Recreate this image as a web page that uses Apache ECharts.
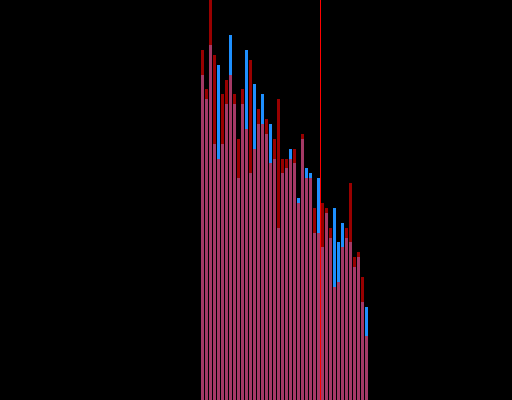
<!DOCTYPE html>
<html>
<head>
<meta charset="utf-8">
<script src="https://cdn.jsdelivr.net/npm/echarts@6/dist/echarts.min.js"></script>
<style>html,body{margin:0;padding:0;background:#000;}#c{width:512px;height:400px;}</style>
</head>
<body>
<div id="c"></div>
<script>
const categories = Array.from({length: 42}, (_, i) => String(i + 1));
const blueValues = [325,301,355,256,335,256,296,365,296,222,296,350,227,316,276,306,266,276,241,172,227,232,251,237,202,261,232,227,167,222,153,187,162,192,158,177,162,158,133,143,98,93];
const redValues  = [350,311,400,345,241,306,320,325,306,261,311,271,340,251,291,276,281,237,261,301,241,241,241,251,197,266,222,222,192,167,197,192,172,113,118,153,172,217,143,148,123,64];
const markerPosition = [30];

const chart = echarts.init(document.getElementById('c'), null, {renderer: 'canvas'});
chart.setOption({
  backgroundColor: '#000000',
  animation: false,
  grid: {left: 200.5, top: 0, width: 168, height: 400, containLabel: false},
  xAxis: [
    {type: 'category', data: categories, show: false, boundaryGap: true},
    {type: 'value', min: 0, max: 42, show: false}
  ],
  yAxis: {type: 'value', min: 0, max: 400, show: false},
  series: [
    {type: 'bar', name: 'blue', data: blueValues, barWidth: 3, barGap: '-100%',
     itemStyle: {color: '#1e90ff'}},
    {type: 'bar', name: 'red', data: redValues, barWidth: 3, barGap: '-100%',
     itemStyle: {color: '#ff0000', opacity: 0.6}},
    {type: 'line', xAxisIndex: 1, data: [], silent: true,
     markLine: {silent: true, symbol: 'none', label: {show: false},
       lineStyle: {color: '#ff0000', width: 1, type: 'solid'},
       data: markerPosition.map(v => ({xAxis: v}))}}
  ]
});
</script>
</body>
</html>
